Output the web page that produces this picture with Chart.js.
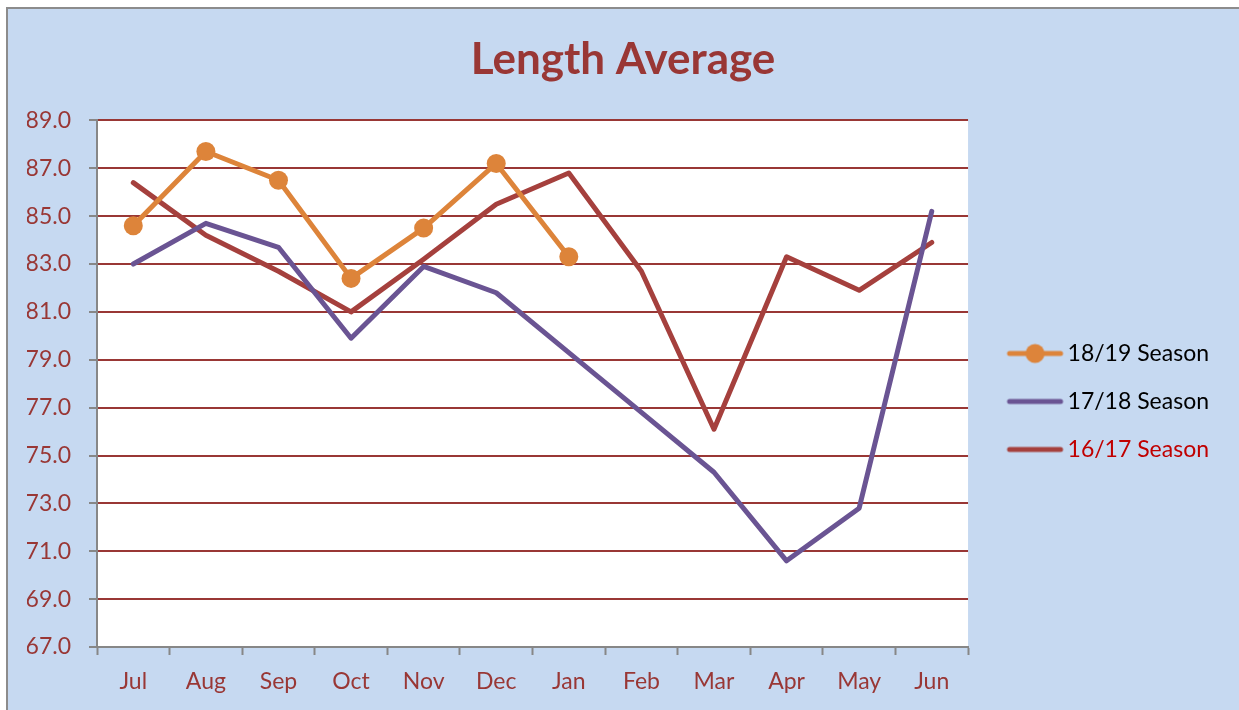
<!DOCTYPE html>
<html lang="en">
<head>
<meta charset="UTF-8">
<title>Length Average</title>
<script src="https://cdn.jsdelivr.net/npm/chart.js"></script>
<style>
    html, body {
        margin: 0;
        padding: 0;
        background: #fff;
    }
    canvas {
        display: block;
    }
</style>
</head>
<body>
<canvas id="lengthChart" width="1239" height="710"></canvas>
<script>
    // values
    const months = ['Jul', 'Aug', 'Sep', 'Oct', 'Nov', 'Dec', 'Jan', 'Feb', 'Mar', 'Apr', 'May', 'Jun'];
    const seasonNames = ['18/19 Season', '17/18 Season', '16/17 Season'];
    const season1819 = [84.6, 87.7, 86.5, 82.4, 84.5, 87.2, 83.3, null, null, null, null, null];
    const season1718 = [83.0, 84.7, 83.7, 79.9, 82.9, 81.8, 79.3, 76.8, 74.3, 70.6, 72.8, 85.2];
    const season1617 = [86.4, 84.2, 82.7, 81.0, 83.2, 85.5, 86.8, 82.7, 76.1, 83.3, 81.9, 83.9];
    const yMin = 67;
    const yMax = 89;
    const yStep = 2;

    const ORANGE = '#DD843A';
    const PURPLE = '#6A5493';
    const RED = '#A5403D';
    const DARK_RED = '#993735';
    const AXIS_GREY = '#878787';
    const FONT = 'Lato, "Open Sans", sans-serif';

    // little line (+ dot) pictures for the legend
    function legendSwatch(color, withDot) {
        const c = document.createElement('canvas');
        c.width = 80;
        c.height = 22;
        const g = c.getContext('2d');
        g.strokeStyle = color;
        g.lineWidth = 5;
        g.lineCap = 'round';
        g.beginPath();
        g.moveTo(25, 11);
        g.lineTo(76, 11);
        g.stroke();
        if (withDot) {
            g.fillStyle = color;
            g.beginPath();
            g.arc(50.5, 11, 9.5, 0, Math.PI * 2);
            g.fill();
        }
        return c;
    }

    const swatches = [legendSwatch(ORANGE, true), legendSwatch(PURPLE, false), legendSwatch(RED, false)];
    const legendTextColors = ['#000000', '#000000', '#C00000'];

    const backdrop = {
        id: 'backdrop',
        beforeDraw(chart) {
            const { ctx, width, height, chartArea } = chart;
            ctx.save();
            ctx.fillStyle = '#ffffff';
            ctx.fillRect(0, 0, width, height);
            ctx.fillStyle = '#C6D9F1';
            ctx.fillRect(7, 8, width - 7, height - 8);
            ctx.strokeStyle = '#8C8C8C';
            ctx.lineWidth = 2;
            ctx.beginPath();
            ctx.moveTo(7, height);
            ctx.lineTo(7, 8);
            ctx.lineTo(width, 8);
            ctx.stroke();
            ctx.fillStyle = '#ffffff';
            ctx.fillRect(chartArea.left, chartArea.top, chartArea.right - chartArea.left, chartArea.bottom - chartArea.top);
            ctx.restore();
        }
    };

    const ctx = document.getElementById('lengthChart').getContext('2d');
    new Chart(ctx, {
        type: 'line',
        data: {
            labels: months,
            datasets: [
                {
                    label: seasonNames[0],
                    data: season1819,
                    borderColor: ORANGE,
                    backgroundColor: ORANGE,
                    pointBackgroundColor: ORANGE,
                    pointBorderWidth: 0,
                    pointRadius: 9.5,
                    pointHoverRadius: 9.5
                },
                {
                    label: seasonNames[1],
                    data: season1718,
                    borderColor: PURPLE,
                    backgroundColor: PURPLE,
                    pointRadius: 0
                },
                {
                    label: seasonNames[2],
                    data: season1617,
                    borderColor: RED,
                    backgroundColor: RED,
                    pointRadius: 0
                }
            ]
        },
        options: {
            responsive: false,
            animation: false,
            events: [],
            elements: {
                line: {
                    borderWidth: 5,
                    tension: 0,
                    borderJoinStyle: 'round',
                    borderCapStyle: 'round'
                }
            },
            layout: { padding: { left: 27, right: 20 } },
            plugins: {
                title: {
                    display: true,
                    text: 'Length Average',
                    color: DARK_RED,
                    font: { family: FONT, size: 44, weight: 'bold', lineHeight: 1.2 },
                    padding: { top: 33.6, bottom: 34 }
                },
                legend: {
                    position: 'right',
                    maxWidth: 251,
                    title: {
                        display: true,
                        text: ' ',
                        font: { size: 15, lineHeight: 1 },
                        padding: 39
                    },
                    labels: {
                        font: { family: FONT, size: 23 },
                        padding: 25,
                        usePointStyle: true,
                        pointStyleWidth: 63,
                        generateLabels(chart) {
                            return chart.data.datasets.map((ds, i) => ({
                                text: ds.label,
                                pointStyle: swatches[i],
                                fillStyle: ds.borderColor,
                                strokeStyle: ds.borderColor,
                                fontColor: legendTextColors[i],
                                lineWidth: 0,
                                hidden: false,
                                datasetIndex: i
                            }));
                        }
                    }
                },
                tooltip: { enabled: false }
            },
            scales: {
                x: {
                    offset: true,
                    afterFit(scale) { scale.height = 63; },
                    grid: {
                        offset: true,
                        drawOnChartArea: false,
                        drawTicks: true,
                        tickLength: 8,
                        tickColor: AXIS_GREY,
                        tickWidth: 2
                    },
                    border: { color: AXIS_GREY, width: 2 },
                    ticks: {
                        color: DARK_RED,
                        font: { family: FONT, size: 23 },
                        padding: 13,
                        maxRotation: 0
                    }
                },
                y: {
                    min: yMin,
                    max: yMax,
                    afterFit(scale) { scale.width = 70; },
                    grid: {
                        color: (c) => (c.index === 0 ? 'rgba(0,0,0,0)' : DARK_RED),
                        lineWidth: 2,
                        tickLength: 8,
                        tickColor: AXIS_GREY,
                        tickWidth: 2
                    },
                    border: { color: AXIS_GREY, width: 2 },
                    ticks: {
                        stepSize: yStep,
                        color: DARK_RED,
                        font: { family: FONT, size: 23 },
                        padding: 18,
                        callback: (v) => Number(v).toFixed(1)
                    }
                }
            }
        },
        plugins: [backdrop]
    });
</script>
</body>
</html>
